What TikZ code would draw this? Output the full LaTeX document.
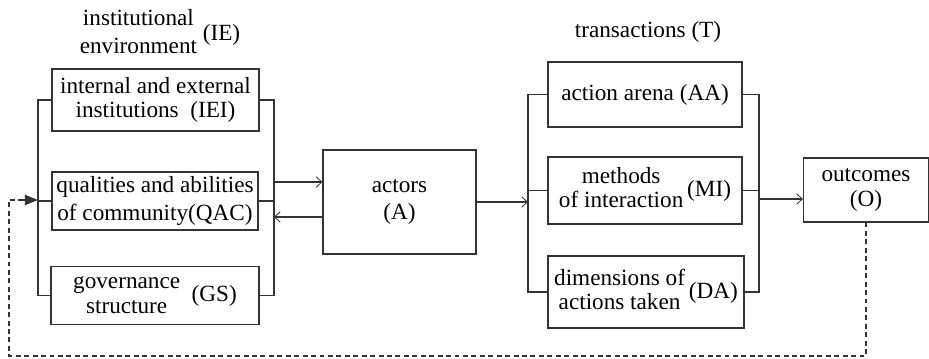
\documentclass[tikz,border=0pt]{standalone}
\usepackage{fontspec}
\setmainfont{Liberation Serif}
\usetikzlibrary{arrows.meta}

\begin{document}
\begin{tikzpicture}[x=0.025cm,y=-0.025cm,line width=0.8pt,draw=black!80,
		font=\fontsize{16.5}{19}\selectfont,
		box/.style={draw,rectangle,align=center,inner sep=2pt},
		arr/.style={-{Straight Barb[length=1.4mm,width=2.6mm,line width=0.6pt]}}]
		\useasboundingbox (0,0) rectangle (929,359);

		% institutional environment
		\node (ie) at (160,34){\begin{tabular}{@{}c@{}}institutional\\[1pt]environment\end{tabular}\ (IE)};
		\node[box,minimum width=5.175cm,minimum height=1.55cm] (iei) at (155.5,100){internal and external\\[-2pt]institutions\ \ (IEI)};
		\node[box,minimum width=5.15cm,minimum height=1.45cm] (qac) at (155,201){qualities and abilities\\[1pt]of community(QAC)};
		\node[box,minimum width=5.2cm,minimum height=1.425cm] (gs) at (155,295.5){\begin{tabular}{@{}c@{}}governance\\[-1pt]structure\end{tabular}\ \ (GS)};
		\coordinate (ieL) at (38,200);
		\coordinate (ieR) at (274,200);
		\draw (iei.west) -| (ieL) |- (gs.west);
		\draw (qac.west) -- (qac.west -| ieL);
		\draw (iei.east) -| (ieR) |- (gs.east);
		\draw (qac.east) -- (qac.east -| ieR);

		% actors
		\node[box,minimum width=3.825cm,minimum height=2.6cm] (act) at (399.5,202){actors\\[0pt](A)};
		\coordinate (a1) at (274,182);
		\coordinate (a2) at (274,217);
		\draw[arr] (a1) -- (a1 -| act.west);
		\draw[arr] (a2 -| act.west) -- (a2);

		% transactions
		\node (t) at (648,32){transactions\ (T)};
		\node[box,minimum width=4.85cm,minimum height=1.625cm] (aa) at (645,94.5){action arena (AA)};
		\node[box,minimum width=4.85cm,minimum height=1.675cm] (mi) at (645,190.5){\begin{tabular}{@{}c@{}}methods\\[-2pt]of interaction\end{tabular}\,(MI)};
		\node[box,minimum width=4.9cm,minimum height=1.8cm] (da) at (646,292){\begin{tabular}{@{}c@{}}dimensions of\\[-2pt]actions taken\end{tabular}\,(DA)};
		\coordinate (tL) at (528,199);
		\coordinate (tR) at (759,199);
		\draw[arr] (act.east) -- (act.east -| tL);
		\draw (aa.west) -| (tL) |- (da.west);
		\draw (mi.west) -- (mi.west -| tL);
		\draw (aa.east) -| (tR) |- (da.east);
		\draw (mi.east) -- (mi.east -| tR);

		% outcomes and feedback
		\node[box,minimum width=3.125cm,minimum height=1.6cm] (out) at (866,190){outcomes\\[-1pt](O)};
		\draw[arr] (tR) -- (tR -| out.west);
		\coordinate (fb) at (9,356);
		\coordinate (fbt) at (22,200);
		\draw[dash pattern=on 3.5pt off 2.5pt] (out.south) |- (fb) |- (fbt);
		\draw[-{Triangle[length=3.3mm,width=2.6mm]}] (fbt) -- (ieL);
	\end{tikzpicture}
\end{document}
